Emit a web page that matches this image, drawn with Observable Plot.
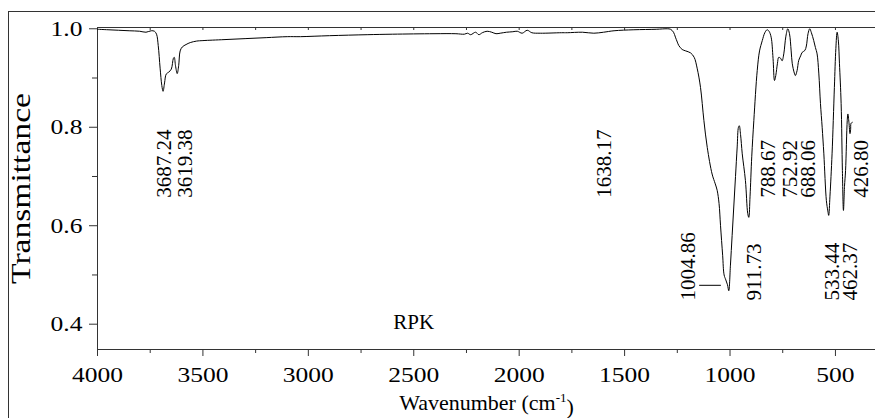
<!DOCTYPE html>
<html><head><meta charset="utf-8">
<script src="https://cdn.jsdelivr.net/npm/d3@7"></script>
<script src="https://cdn.jsdelivr.net/npm/@observablehq/plot@0.6"></script>
<style>
body{margin:0;background:#fff;}
#wrap{position:relative;width:875px;height:418px;overflow:hidden;font-family:"Liberation Serif",serif;}
#outer{position:absolute;left:8px;top:11px;width:900px;height:450px;border-left:1px solid #333;border-top:1px solid #333;}
#chart{position:absolute;left:0;top:0;}
</style></head><body><div id="wrap"><div id="outer"></div><div id="chart"></div></div>
<script>
const wavenumber = [4000,3950,3900,3850,3800,3770,3745,3730,3720,3712,3703,3695,3689,3682,3674,3662,3650,3640,3636,3630,3622,3615,3608,3598,3580,3560,3530,3500,3400,3300,3200,3100,3037,2900,2721,2600,2404,2300,2260,2245,2230,2207,2191,2175,2152,2130,2110,2090,2060,2030,2009,1986,1962,1940,1900,1800,1772,1700,1646,1600,1550,1456,1350,1298,1282,1268,1259,1250,1243,1227,1210,1187,1170,1156,1140,1124,1108,1085,1070,1061,1052,1045,1035,1028,1020,1012,1006,998,990,982,974,966,960,956,950,942,927,916,911,905,897,887,871,860,847,835,824,815,805,796,789,783,775,769,760,753,745,735,726,718,710,705,695,690,682,674,665,658,645,638,630,622,614,603,595,587,579,571,563,555,543,536,532,526,516,505,498,492,486,481,473,467,462,457,452,444,441,436,431,428,426,420];
const transmittance = [0.999,0.998,0.997,0.996,0.995,0.993,0.996,0.995,0.989,0.966,0.920,0.885,0.873,0.890,0.908,0.912,0.918,0.940,0.942,0.925,0.909,0.925,0.955,0.963,0.968,0.972,0.975,0.976,0.978,0.980,0.982,0.984,0.984,0.986,0.988,0.989,0.990,0.990,0.989,0.991,0.988,0.993,0.988,0.992,0.995,0.993,0.990,0.991,0.993,0.994,0.995,0.991,0.997,0.992,0.991,0.992,0.992,0.993,0.991,0.993,0.996,0.998,0.999,1.000,0.999,0.993,0.983,0.973,0.966,0.958,0.955,0.951,0.942,0.920,0.881,0.814,0.759,0.705,0.685,0.672,0.645,0.600,0.540,0.500,0.490,0.480,0.468,0.520,0.580,0.640,0.700,0.760,0.800,0.803,0.785,0.746,0.692,0.625,0.617,0.660,0.740,0.814,0.915,0.955,0.976,0.992,0.998,0.995,0.983,0.940,0.895,0.905,0.930,0.942,0.940,0.935,0.949,0.985,1.000,0.990,0.955,0.930,0.910,0.905,0.915,0.936,0.945,0.952,0.956,0.965,0.990,1.000,0.992,0.976,0.962,0.949,0.910,0.848,0.800,0.746,0.651,0.630,0.621,0.660,0.746,0.881,0.960,0.993,0.975,0.930,0.848,0.712,0.631,0.680,0.712,0.814,0.827,0.810,0.787,0.795,0.808,0.810];
const peakLabels = ["3687.24","3619.38","1638.17","788.67","752.92","688.06","426.80","1004.86","911.73","533.44","462.37"];
const peakLabelAt = [3682,3582,1595,820,713,628,377,1197,884,513,429];
const peakLabelRow = [0,0,0,0,0,0,0,1,1,1,1];
const leaderFrom = [1144];
const leaderTo = [1041];
const leaderLevel = [0.479];
const xTicks = [4000,3500,3000,2500,2000,1500,1000,500];
const xMinorTicks = [3750,3250,2750,2250,1750,1250,750];
const yTicks = [0.4,0.6,0.8,1.0];
const yMinorTicks = [0.5,0.7,0.9];
const sampleName = "RPK";
const yLabel = "Transmittance";
const xLabel = ["Wavenumber (cm", "-1", ")"];

const spectrum = wavenumber.map((w, i) => ({w, t: transmittance[i]}));
const labels = peakLabels.map((text, i) => ({text, at: peakLabelAt[i], row: peakLabelRow[i]}));
const leaders = leaderFrom.map((a, i) => ({x1: a, x2: leaderTo[i], y: leaderLevel[i]}));
const topTicks = [...xTicks, ...xMinorTicks];
const axisColor = "#333";
const serif = "Liberation Serif";

const chart = Plot.plot({
  width: 875, height: 418,
  marginLeft: 97, marginRight: 0, marginTop: 27, marginBottom: 69,
  style: {fontFamily: serif, fontSize: "22px", color: "#000", background: "transparent"},
  x: {domain: [4000, 310], axis: null},
  y: {domain: [0.3486, 1.0026], axis: null},
  marks: [
    Plot.frame({anchor: "top", stroke: axisColor}),
    Plot.frame({anchor: "left", stroke: axisColor}),
    Plot.frame({anchor: "bottom", stroke: axisColor}),
    Plot.axisX({ticks: xTicks, tickSize: 7, tickPadding: 10, tickFormat: d => String(d), fontSize: 22, fontFamily: serif, stroke: axisColor}),
    Plot.axisX({ticks: xMinorTicks, tickSize: 4, text: null, stroke: axisColor}),
    Plot.tickX(topTicks, {x: d => d, insetBottom: 319, stroke: axisColor}),
    Plot.axisY({ticks: yTicks, tickSize: 8, tickPadding: 7, tickFormat: d3.format(".1f"), fontSize: 22, fontFamily: serif, stroke: axisColor}),
    Plot.axisY({ticks: yMinorTicks, tickSize: 5, text: null, stroke: axisColor}),
    Plot.line(spectrum, {x: "w", y: "t", stroke: "#000", strokeWidth: 1, curve: "catmull-rom"}),
    Plot.text(labels, {x: "at", y: d => d.row === 0 ? 0.657 : 0.448, text: "text", rotate: -90, textAnchor: "start", lineAnchor: "middle", fontSize: 21, fontFamily: serif, fill: "#000"}),
    Plot.ruleY(leaders, {x1: "x1", x2: "x2", y: "y", stroke: "#000", strokeWidth: 1}),
    Plot.text([sampleName], {x: 2500, y: 0.391, text: d => d, lineAnchor: "bottom", fontSize: 21, fontFamily: serif, fill: "#000"}),
    Plot.text([yLabel], {frameAnchor: "left", dx: -76, rotate: -90, text: d => d, textAnchor: "middle", lineAnchor: "middle", fontSize: 28, fontFamily: serif, fill: "#000"}),
    Plot.text([xLabel.join("")], {frameAnchor: "bottom", dy: 60, text: d => d, textAnchor: "middle", lineAnchor: "bottom", fontSize: 22, fontFamily: serif, fill: "#000"})
  ]
});
document.getElementById("chart").appendChild(chart);

// superscript in the x-axis title
d3.select(chart).selectAll("text")
  .filter(function() { return this.textContent === xLabel.join(""); })
  .each(function() {
    const t = d3.select(this);
    t.text(null);
    t.append("tspan").text(xLabel[0]);
    t.append("tspan").attr("dy", "-0.55em").attr("font-size", "13px").text(xLabel[1]);
    t.append("tspan").attr("dy", "0.55em").text(xLabel[2]);
  });

// widen glyphs along the text direction, about each text's own anchor
function stretch(el, s) {
  const b = el.getBBox();
  const anchor = el.getAttribute("text-anchor") || getComputedStyle(el).textAnchor || "start";
  const ax = anchor === "end" ? b.x + b.width : anchor === "middle" ? b.x + b.width / 2 : b.x;
  const tr = el.getAttribute("transform") || "";
  el.setAttribute("transform", `${tr} translate(${ax},0) scale(${s},1) translate(${-ax},0)`);
}
d3.select(chart).selectAll("g[aria-label$='tick label'] text").each(function() { stretch(this, 1.16); });
d3.select(chart).selectAll("text")
  .filter(function() { return this.textContent === yLabel; })
  .each(function() { stretch(this, 1.2); });
</script></body></html>
